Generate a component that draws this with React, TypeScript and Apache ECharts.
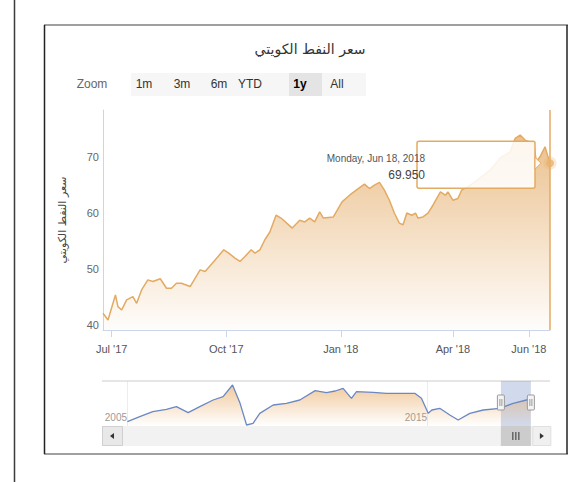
import React, { useEffect, useRef } from "react";
import * as echarts from "echarts";

// ---------- data ----------
const TITLE = "سعر النفط الكويتي";
const Y_NAME = "سعر النفط الكويتي";

const mainDates = [
  "2017-06-24", "2017-06-28", "2017-07-04", "2017-07-06", "2017-07-09", "2017-07-13", "2017-07-18",
  "2017-07-21", "2017-07-25", "2017-07-30", "2017-08-03", "2017-08-09", "2017-08-14", "2017-08-18",
  "2017-08-22", "2017-08-26", "2017-09-02", "2017-09-10", "2017-09-14", "2017-09-21", "2017-09-29",
  "2017-10-03", "2017-10-08", "2017-10-12", "2017-10-16", "2017-10-21", "2017-10-24", "2017-10-28",
  "2017-11-01", "2017-11-05", "2017-11-10", "2017-11-14", "2017-11-23", "2017-11-29", "2017-12-03",
  "2017-12-07", "2017-12-11", "2017-12-15", "2017-12-18", "2017-12-26", "2018-01-02", "2018-01-08",
  "2018-01-15", "2018-01-20", "2018-01-24", "2018-01-28", "2018-02-01", "2018-02-05", "2018-02-09",
  "2018-02-13", "2018-02-17", "2018-02-20", "2018-02-23", "2018-02-27", "2018-03-02", "2018-03-04",
  "2018-03-08", "2018-03-12", "2018-03-16", "2018-03-22", "2018-03-26", "2018-03-28", "2018-04-01",
  "2018-04-05", "2018-04-08", "2018-04-15", "2018-04-23", "2018-05-01", "2018-05-09", "2018-05-17",
  "2018-05-21", "2018-05-25", "2018-05-29", "2018-06-05", "2018-06-07", "2018-06-10", "2018-06-14",
  "2018-06-16", "2018-06-18",
];
const mainValues = [
  43.0, 41.8, 46.3, 44.2, 43.6, 45.4, 46.0,
  44.8, 47.2, 49.0, 48.7, 49.2, 47.5, 47.5,
  48.4, 48.4, 47.8, 50.8, 50.5, 52.3, 54.4,
  53.8, 52.9, 52.3, 53.2, 54.4, 53.8, 54.4,
  56.2, 57.6, 60.6, 60.1, 58.3, 59.7, 59.4,
  60.1, 59.4, 61.2, 60.1, 60.3, 63.0, 64.2,
  65.4, 66.2, 65.4, 66.0, 66.5, 65.1, 63.3,
  61.0, 59.2, 58.9, 61.0, 60.6, 61.0, 60.1,
  60.3, 61.0, 62.4, 64.8, 64.2, 64.8, 63.3,
  63.6, 65.1, 66.0, 67.3, 68.7, 70.9, 72.0,
  74.4, 75.0, 74.1, 73.5, 70.2, 71.1, 72.9,
  71.4, 69.95,
];
const mainStart = "2017-06-24";
const mainEnd = "2018-06-18";
const yTickValues = [40, 50, 60, 70];
const xTickDates = ["2017-07-01", "2017-10-01", "2018-01-01", "2018-04-01", "2018-06-01"];
const xTickLabels = ["Jul '17", "Oct '17", "Jan '18", "Apr '18", "Jun '18"];

const navDates = [
  "2005-01-05", "2005-06-05", "2005-11-10", "2006-04-25", "2006-08-25", "2007-01-15", "2007-06-05",
  "2007-11-15", "2008-03-15", "2008-07-08", "2008-10-08", "2008-12-26", "2009-03-15", "2009-06-05",
  "2009-11-15", "2010-04-25", "2010-10-05", "2011-04-10", "2011-08-25", "2011-12-10", "2012-03-15",
  "2012-06-25", "2012-08-25", "2013-03-15", "2013-08-25", "2014-02-05", "2014-08-05", "2014-10-25",
  "2015-01-15", "2015-03-01", "2015-06-05", "2015-10-05", "2016-01-15", "2016-06-05", "2016-11-15",
  "2017-06-05", "2017-11-15", "2018-04-25", "2018-06-18",
];
const navValues = [
  20, 35, 50, 57, 65, 47, 65,
  85, 95, 130, 75, 10, 15, 45,
  70, 75, 85, 113, 107, 112, 120,
  90, 110, 108, 105, 105, 105, 90,
  45, 55, 60, 40, 25, 45, 55,
  60, 75, 85, 88,
];
const navStart = "2004-03-02";
const navEnd = "2019-02-06";
const navTickDates = ["2005-01-01", "2015-01-01"];
const navTickLabels = ["2005", "2015"];
const navRange = ["2017-06-18", "2018-06-18"];

const zoomLabel = "Zoom";
const zoomButtons = ["1m", "3m", "6m", "YTD", "1y", "All"];
const selectedButton = "1y";
const tooltipDate = "Monday, Jun 18, 2018";
const tooltipValue = "69.950";

// ---------- helpers / layout ----------
const ts = (s: string) => {
  const [y, m, d] = s.split("-").map(Number);
  return Date.UTC(y, m - 1, d);
};
const buttonCenters = [144, 182, 219, 250, 300, 337];
const LATIN = "Liberation Sans, Arial, sans-serif";
const ARABIC = "DejaVu Sans, sans-serif";
const ORANGE = "#e3aa62";

export default function App() {
  const ref = useRef<HTMLDivElement>(null);

  useEffect(() => {
    if (!ref.current) return;
    const chart = echarts.init(ref.current, undefined, { renderer: "svg" });
    const xTicks = xTickDates.map(ts);
    const navTicks = navTickDates.map(ts);
    const nearestLabel = (v: number, ticks: number[], labels: string[]) => {
      let best = 0;
      for (let i = 1; i < ticks.length; i++) if (Math.abs(ticks[i] - v) < Math.abs(ticks[best] - v)) best = i;
      return Math.abs(ticks[best] - v) < 5 * 86400000 ? labels[best] : "";
    };
    const lastIdx = mainDates.length - 1;
    const lastPoint = [ts(mainDates[lastIdx]), mainValues[lastIdx]];

    const option: any = {
      animation: false,
      backgroundColor: "#ffffff",
      title: {
        text: TITLE,
        left: 305,
        top: 37,
        textAlign: "center",
        textStyle: { fontFamily: ARABIC, fontSize: 14, fontWeight: "normal", color: "#333" },
      },
      grid: [
        { left: 103, right: 22, top: 110, bottom: 152 },
        { left: 102, right: 22, top: 381, bottom: 56 },
      ],
      xAxis: [
        {
          gridIndex: 0,
          type: "value",
          min: ts(mainStart),
          max: ts(mainEnd),
          axisLine: { show: true, lineStyle: { color: "#ccd6eb", width: 1 } },
          axisTick: { show: true, customValues: xTicks, length: 7, lineStyle: { color: "#ccd6eb" } },
          axisLabel: {
            customValues: xTicks,
            formatter: (v: number) => nearestLabel(v, xTicks, xTickLabels),
            color: "#555",
            fontSize: 11,
            fontFamily: LATIN,
            margin: 13,
          },
          splitLine: { show: false },
        },
        {
          gridIndex: 1,
          type: "value",
          min: ts(navStart),
          max: ts(navEnd),
          axisLine: { show: false },
          axisTick: { show: false, customValues: navTicks },
          axisLabel: {
            customValues: navTicks,
            formatter: (v: number) => nearestLabel(v, navTicks, navTickLabels),
            inside: true,
            align: "right",
            color: "#9a9a9a",
            fontSize: 10,
            fontFamily: LATIN,
            margin: 4,
          },
          splitLine: { show: true, lineStyle: { color: "#ececec" } },
        },
      ],
      yAxis: [
        {
          gridIndex: 0,
          type: "value",
          min: 40,
          max: 79.5,
          axisLine: { show: true, lineStyle: { color: "#ccd6eb", width: 1 } },
          axisTick: { show: false },
          splitLine: { show: false },
          axisLabel: {
            customValues: yTickValues,
            color: "#666",
            fontSize: 11,
            fontFamily: LATIN,
            margin: 4,
            verticalAlign: "bottom",
          },
          name: Y_NAME,
          nameLocation: "middle",
          nameGap: 35,
          nameTextStyle: { color: "#444", fontSize: 11, fontFamily: ARABIC },
        },
        { gridIndex: 1, type: "value", min: 7, max: 142, show: false },
      ],
      series: [
        {
          type: "line",
          xAxisIndex: 0,
          yAxisIndex: 0,
          data: mainDates.map((d, i) => [ts(d), mainValues[i]]),
          symbol: "none",
          lineStyle: { color: ORANGE, width: 1.5 },
          areaStyle: {
            origin: "start",
            color: new echarts.graphic.LinearGradient(0, 0, 0, 1, [
              { offset: 0, color: "rgba(224,158,78,0.92)" },
              { offset: 1, color: "rgba(224,158,78,0.03)" },
            ]),
          },
          markLine: {
            silent: true,
            symbol: "none",
            label: { show: false },
            lineStyle: { color: ORANGE, width: 1.5, type: "solid" },
            data: [{ xAxis: lastPoint[0] }],
          },
          z: 2,
        },
        {
          type: "scatter",
          xAxisIndex: 0,
          yAxisIndex: 0,
          data: [lastPoint],
          symbol: "circle",
          symbolSize: 8,
          itemStyle: { color: "#e8b370", borderColor: "rgba(232,179,112,0.35)", borderWidth: 5 },
          z: 5,
        },
        {
          type: "line",
          xAxisIndex: 1,
          yAxisIndex: 1,
          data: navDates.map((d, i) => [ts(d), navValues[i]]),
          symbol: "none",
          lineStyle: { color: "#6a88c4", width: 1.3 },
          areaStyle: {
            origin: "start",
            color: new echarts.graphic.LinearGradient(0, 0, 0, 1, [
              { offset: 0, color: "rgba(230,160,80,0.8)" },
              { offset: 1, color: "rgba(230,160,80,0)" },
            ]),
          },
          markArea: {
            silent: true,
            itemStyle: { color: "rgba(102,133,194,0.3)" },
            data: [[{ xAxis: ts(navRange[0]) }, { xAxis: ts(navRange[1]) }]],
          },
        },
      ],
    };
    chart.setOption(option);

    const [px, py] = chart.convertToPixel({ xAxisIndex: 0, yAxisIndex: 0 }, lastPoint) as number[];
    const h1 = chart.convertToPixel({ xAxisIndex: 1 }, ts(navRange[0])) as number;
    const h2 = chart.convertToPixel({ xAxisIndex: 1 }, ts(navRange[1])) as number;
    const bx = px - 133;
    const by = py - 22;

    const g: any[] = [];
    g.push({ type: "line", shape: { x1: 14.5, y1: 0, x2: 14.5, y2: 482 }, style: { stroke: "#3a3a3a", lineWidth: 1.5 } });
    g.push({ type: "line", shape: { x1: 44, y1: 25, x2: 568, y2: 25 }, style: { stroke: "#a0a0a0", lineWidth: 2 } });
    g.push({ type: "line", shape: { x1: 44, y1: 454, x2: 568, y2: 454 }, style: { stroke: "#a0a0a0", lineWidth: 2 } });
    g.push({ type: "line", shape: { x1: 44.5, y1: 25, x2: 44.5, y2: 454 }, style: { stroke: "#222", lineWidth: 1.5 } });
    g.push({ type: "line", shape: { x1: 567, y1: 25, x2: 567, y2: 454 }, style: { stroke: "#222", lineWidth: 1.5 } });

    g.push({ type: "text", x: 92, y: 84, style: { text: zoomLabel, align: "center", verticalAlign: "middle", fontSize: 12, fontFamily: LATIN, fill: "#666" } });
    g.push({ type: "rect", shape: { x: 131, y: 73, width: 235, height: 23 }, style: { fill: "#f6f6f6" } });
    zoomButtons.forEach((b, i) => {
      const sel = b === selectedButton;
      if (sel) g.push({ type: "rect", shape: { x: buttonCenters[i] - 11, y: 73, width: 33, height: 23 }, style: { fill: "#e4e4e4" } });
      g.push({
        type: "text",
        x: buttonCenters[i],
        y: 84,
        z: 2,
        style: { text: b, align: "center", verticalAlign: "middle", fontSize: 12, fontFamily: LATIN, fill: sel ? "#000" : "#333", fontWeight: sel ? "bold" : "normal" },
      });
    });

    g.push({ type: "line", shape: { x1: 102, y1: 381, x2: 550, y2: 381 }, style: { stroke: "#cccccc", lineWidth: 1 } });
    [h1, h2].forEach((hx) => {
      g.push({ type: "rect", z: 10, shape: { x: hx - 3.5, y: 395, width: 7, height: 15, r: 1 }, style: { fill: "#f4f4f4", stroke: "#999", lineWidth: 1 } });
      g.push({ type: "line", z: 11, shape: { x1: hx - 1, y1: 399, x2: hx - 1, y2: 406 }, style: { stroke: "#999", lineWidth: 1 } });
      g.push({ type: "line", z: 11, shape: { x1: hx + 1, y1: 399, x2: hx + 1, y2: 406 }, style: { stroke: "#999", lineWidth: 1 } });
    });

    g.push({ type: "rect", shape: { x: 102, y: 426, width: 448, height: 20 }, style: { fill: "#f2f2f2" } });
    g.push({ type: "rect", shape: { x: 102.5, y: 426.5, width: 20, height: 19 }, style: { fill: "#e8e8e8", stroke: "#d0d0d0", lineWidth: 1 } });
    g.push({ type: "polygon", shape: { points: [[114, 433], [110, 436], [114, 439]] }, style: { fill: "#333" } });
    g.push({ type: "rect", shape: { x: h1, y: 426, width: h2 - h1, height: 20 }, style: { fill: "#cccccc" } });
    [-3, 0, 3].forEach((o) => {
      const cx = (h1 + h2) / 2 + o;
      g.push({ type: "line", z: 2, shape: { x1: cx, y1: 432, x2: cx, y2: 440 }, style: { stroke: "#333", lineWidth: 1 } });
    });
    g.push({ type: "rect", shape: { x: h2 + 2, y: 426.5, width: 18, height: 19 }, style: { fill: "#f0f0f0", stroke: "#e0e0e0", lineWidth: 1 } });
    g.push({ type: "polygon", shape: { points: [[h2 + 9, 433], [h2 + 13, 436], [h2 + 9, 439]] }, style: { fill: "#333" } });

    g.push({ type: "rect", z: 100, shape: { x: bx, y: by, width: 118, height: 47, r: 2 }, style: { fill: "rgba(255,255,255,0.86)", stroke: ORANGE, lineWidth: 1.5 } });
    g.push({ type: "polygon", z: 101, shape: { points: [[bx + 118, by + 16], [bx + 124, by + 22], [bx + 118, by + 28]] }, style: { fill: "rgba(255,255,255,0.86)", stroke: ORANGE, lineWidth: 1 } });
    g.push({ type: "text", z: 102, x: bx + 8, y: by + 17, style: { text: tooltipDate, align: "right", verticalAlign: "middle", fontSize: 10, fontFamily: LATIN, fill: "#555" } });
    g.push({ type: "text", z: 102, x: bx + 8, y: by + 34, style: { text: tooltipValue, align: "right", verticalAlign: "middle", fontSize: 12, fontFamily: LATIN, fill: "#444" } });

    chart.setOption({ graphic: g });

    return () => chart.dispose();
  }, []);

  return <div ref={ref} style={{ position: "absolute", left: 0, top: 0, width: 572, height: 482 }} />;
}
